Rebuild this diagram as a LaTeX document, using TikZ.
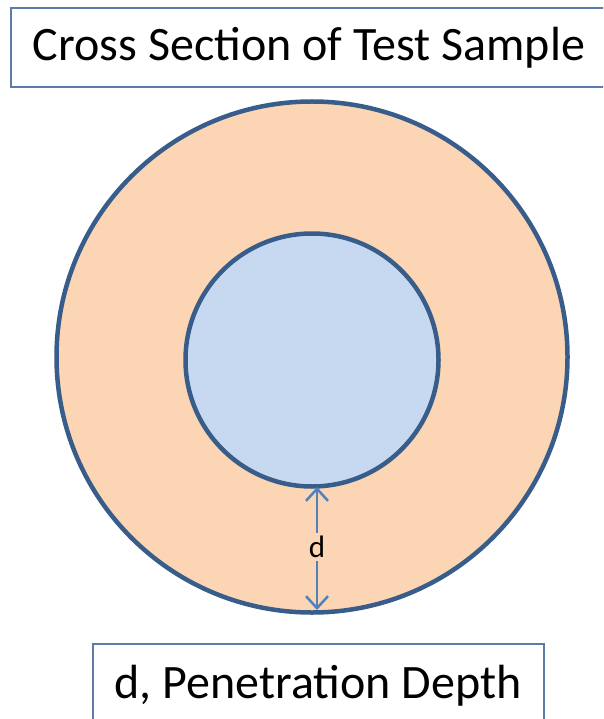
\documentclass[tikz,border=0pt]{standalone}
\usepackage{fontspec}
\setmainfont{Carlito}
\usetikzlibrary{arrows.meta}
\definecolor{ringline}{HTML}{385D8A}
\definecolor{ringfill}{HTML}{FCD5B5}
\definecolor{corefill}{HTML}{C6D9F1}
\definecolor{arrowcol}{HTML}{4F81BD}
\definecolor{boxline}{HTML}{5B7BA8}
\tikzset{
  labelbox/.style={draw=boxline, line width=2pt, fill=white},
  bigtext/.style={font=\fontsize{48}{58}\selectfont, text=black},
  disc/.style={draw=ringline, line width=4.5pt},
  depth/.style={draw=arrowcol, line width=2.5pt, -{Straight Barb[length=12pt,width=22pt,line width=2.5pt]}}
}
\begin{document}
\begin{tikzpicture}[x=1pt,y=-1pt]
\useasboundingbox (0,0) rectangle (603,719);
\clip (0,0) rectangle (603,719);
\fill[white] (0,0) rectangle (603,719);
% title box
\draw[labelbox] (11,8) rectangle (615,87);
\node[bigtext] (title) at (309,48) {Cross Section of Test Sample};
% discs
\node[disc, circle, fill=ringfill, minimum size=511pt, inner sep=0pt] (outer) at (312,357) {};
\node[disc, circle, fill=corefill, minimum size=253pt, inner sep=0pt] (inner) at (312,360) {};
% depth arrow
\node[font=\fontsize{31}{36}\selectfont, inner sep=3pt] (d) at (317,547) {d};
\coordinate (top) at (317,487);
\coordinate (bot) at (317,610);
\draw[depth] (d.north) -- (top);
\draw[depth] (d.south) -- (bot);
% bottom box
\draw[labelbox] (93,644) rectangle (544,730);
\node[bigtext] (caption) at (318,686) {d, Penetration Depth};
\end{tikzpicture}
\end{document}
